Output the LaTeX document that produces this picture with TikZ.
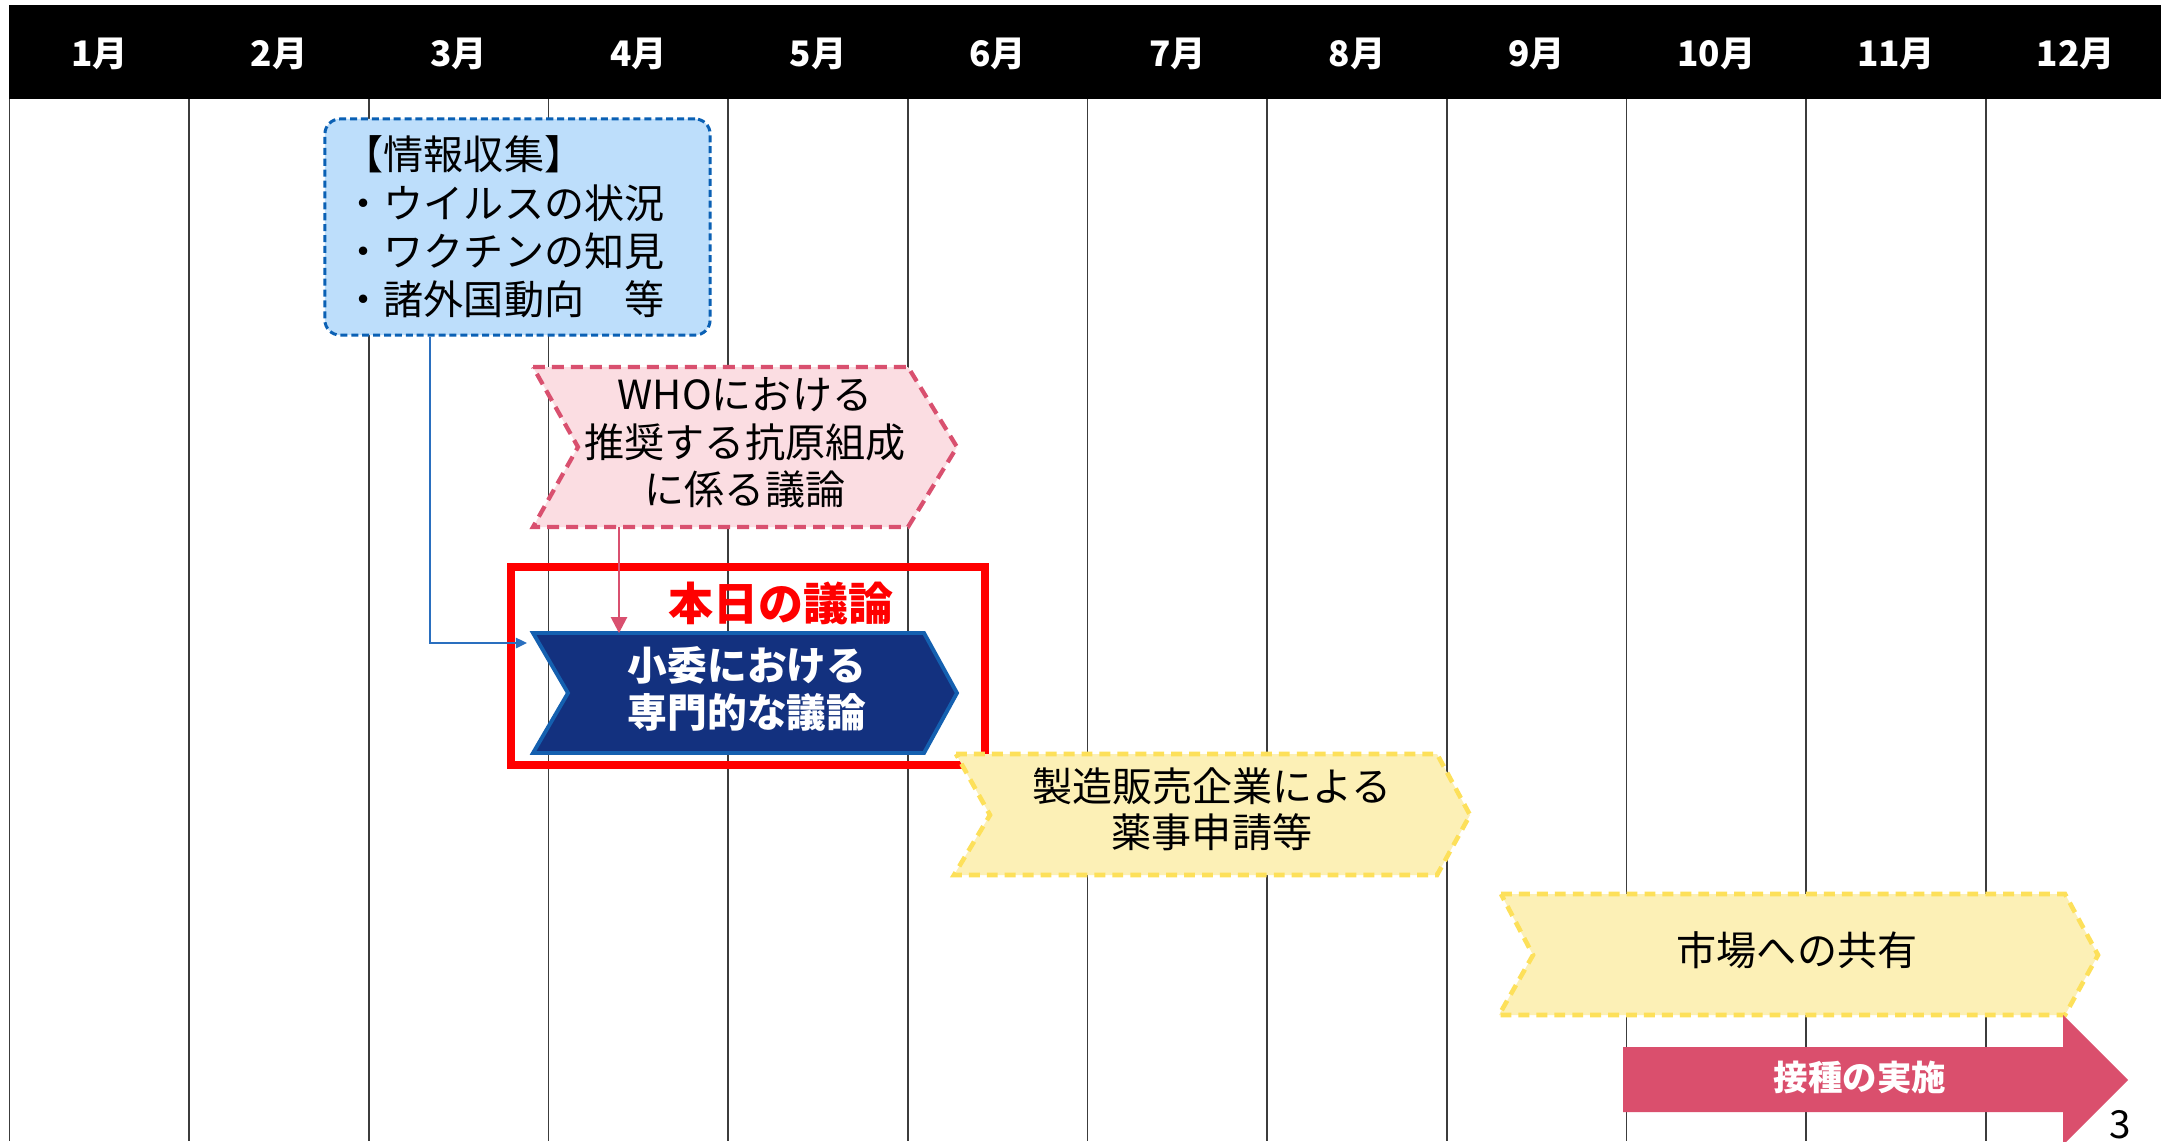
\documentclass[tikz,border=0pt]{standalone}
\usepackage{fontspec}
\setmainfont{Noto Sans CJK JP}
\usetikzlibrary{arrows.meta}
\definecolor{gridc}{HTML}{3C3C3C}
\definecolor{infofill}{HTML}{BDDEFB}
\definecolor{infoline}{HTML}{0A60B4}
\definecolor{whofill}{HTML}{FBDDE2}
\definecolor{wholine}{HTML}{D9506F}
\definecolor{navyfill}{HTML}{13317F}
\definecolor{navyline}{HTML}{1460B0}
\definecolor{yelfill}{HTML}{FCF0B6}
\definecolor{yelline}{HTML}{FDE05A}
\definecolor{pinkarrow}{HTML}{DA4F6D}
\definecolor{connblue}{HTML}{2A6FBF}
\definecolor{todayred}{HTML}{FF0000}
\tikzset{
  gridline/.style={draw=gridc, line width=0.42pt},
  monthlbl/.style={text=white, font=\bfseries\fontsize{10}{11}\selectfont, inner sep=0pt},
  bodytxt/.style={font=\fontsize{11.4}{13.5}\selectfont, align=center, inner sep=0pt, text=black},
  boldtxt/.style={font=\bfseries\fontsize{11.3}{13.4}\selectfont, align=center, inner sep=0pt, text=white},
  infobox/.style={draw=infoline, fill=infofill, line width=0.85pt, dash pattern=on 2pt off 1.1pt, rounded corners=4.3pt},
  whochev/.style={draw=wholine, fill=whofill, line width=1.2pt, dash pattern=on 3.4pt off 2pt},
  navychev/.style={draw=navyline, fill=navyfill, line width=1.1pt},
  yelchev/.style={draw=yelline, fill=yelfill, line width=1.3pt, dash pattern=on 3.1pt off 2pt},
  bluconn/.style={draw=connblue, line width=0.43pt, -{Triangle[length=3.2pt, width=3pt]}},
  pinkconn/.style={draw=wholine, line width=0.45pt, -{Triangle[length=4.5pt, width=4.6pt]}}
}
\begin{document}
\begin{tikzpicture}[x=0.01cm, y=-0.01cm]
\useasboundingbox (0,0) rectangle (2161,1141);
\fill[white] (0,0) rectangle (2161,1141);
% grid
\foreach \i in {0,...,11} {
  \draw[gridline] ({9.5+179.67*\i},99) -- ({9.5+179.67*\i},1141);
}
% header
\fill[black] (9,5) rectangle (2161,99);
\foreach \i in {1,...,12} {
  \node[monthlbl] (m\i) at ({9.5+179.67*(\i-0.5)},54) {\i 月};
}
% info box
\node[infobox, minimum width=3.85cm, minimum height=2.16cm, inner sep=0pt] (info) at (517.5,227) {};
\node[bodytxt, align=left, anchor=west, font=\fontsize{11.4}{13.75}\selectfont] (infotxt) at (343,227)
  {【情報収集】\\・ウイルスの状況\\・ワクチンの知見\\・諸外国動向　等};
% WHO chevron
\path[whochev] (533,367) -- (908,367) -- (957,447) -- (908,527) -- (533,527) -- (578,447) -- cycle;
\node[bodytxt] (whotxt) at (745,443) {WHOにおける\\推奨する抗原組成\\に係る議論};
\coordinate (whoout) at (619,527);
% today frame
\node[draw=todayred, line width=2.28pt, minimum width=4.74cm, minimum height=1.98cm, inner sep=0pt] (today) at (748,666) {};
\node[text=todayred, font=\bfseries\fontsize{12.8}{14}\selectfont, inner sep=0pt] (todaylbl) at (781,603) {本日の議論};
% navy chevron
\path[navychev] (533,633) -- (924,633) -- (957,693) -- (924,753) -- (533,753) -- (568,693) -- cycle;
\node[boldtxt] (subtxt) at (747,688.5) {小委における\\専門的な議論};
\coordinate (subtop) at (619,633);
\coordinate (subin) at (527,643);
% connectors
\draw[bluconn] ([xshift=-0.875cm]info.south) |- (subin);
\draw[pinkconn] (whoout) -- (subtop);
% yellow 1
\path[yelchev] (956,754) -- (1437,754) -- (1470,815) -- (1437,875) -- (954,875) -- (990,815) -- cycle;
\node[bodytxt, font=\fontsize{11.4}{13.1}\selectfont] (mfgtxt) at (1212,809) {製造販売企業による\\薬事申請等};
% yellow 2
\path[yelchev] (1501,894) -- (2065,894) -- (2098,955) -- (2065,1015) -- (1499,1015) -- (1533,955) -- cycle;
\node[bodytxt] (markettxt) at (1797,950) {市場への共有};
% vaccination arrow
\fill[pinkarrow] (1623,1047) -- (2063,1047) -- (2063,1015) -- (2128,1080) -- (2063,1145) -- (2063,1112) -- (1623,1112) -- cycle;
\node[text=white, font=\bfseries\fontsize{9.8}{11}\selectfont, inner sep=0pt] (vaxtxt) at (1860,1077) {接種の実施};
% page number
\node[font=\fontsize{11}{12}\selectfont, anchor=north, inner sep=0pt, text=black] (pagenum) at (2120,1110) {3};
\end{tikzpicture}
\end{document}
